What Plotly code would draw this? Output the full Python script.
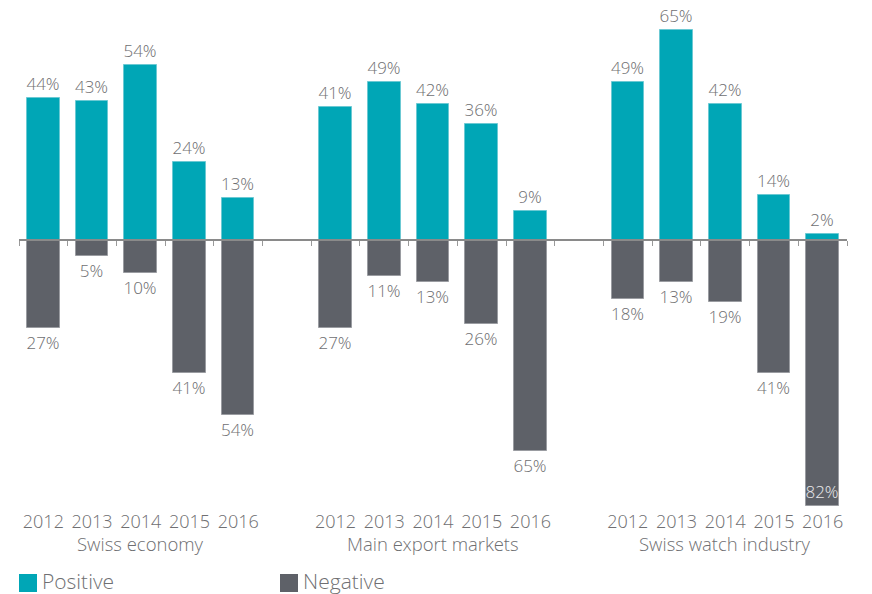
import plotly.graph_objects as go

groups = ["Swiss economy", "Main export markets", "Swiss watch industry"]
years = ["2012", "2013", "2014", "2015", "2016"]
positive = [44, 43, 54, 24, 13, 41, 49, 42, 36, 9, 49, 65, 42, 14, 2]
negative = [27, 5, 10, 41, 54, 27, 11, 13, 26, 65, 18, 13, 19, 41, 82]

TEAL = "#00a6b6"
GREY = "#5e6168"
TXT = "#6f6f72"
FONT = "Open Sans Light, Open Sans"

# x positions: 5 bars per group, one empty slot between groups
xpos = []
for g in range(len(groups)):
    for i in range(len(years)):
        xpos.append(g * (len(years) + 1) + i)
tick_text = years * len(groups)

ymin, ymax = -83, 68
xmin, xmax = -0.5, xpos[-1] + 0.5

# page body has an 8px margin; compensate so the picture fills the window
OFF = 8
W, H = 872 - OFF, 594 - OFF
ML, MT = 19 - OFF, 20 - OFF
PW, PH = 828, 489
MR, MB = W - ML - PW, H - MT - PH

neg_pos = ["inside" if v > 70 else "outside" for v in negative]

def lf(size, color=TXT):
    return dict(family=FONT, size=size, color=color, weight=300)

fig = go.Figure()
fig.add_trace(go.Bar(
    x=xpos, y=positive, name="Positive", width=0.67,
    marker=dict(color=TEAL, line=dict(color="#6cc9d3", width=1)),
    text=[f"{v}%" for v in positive], textposition="outside",
    textfont=lf(17), textangle=0,
    constraintext="none", cliponaxis=False, showlegend=False,
))
fig.add_trace(go.Bar(
    x=xpos, y=[-v for v in negative], name="Negative", width=0.67,
    marker=dict(color=GREY, line=dict(color="#9a9ca1", width=1)),
    text=[f"{v}%" for v in negative], textposition=neg_pos,
    insidetextanchor="end", textangle=0,
    textfont=lf(17), outsidetextfont=lf(17), insidetextfont=lf(17, "#e8e8ea"),
    constraintext="none", cliponaxis=False, showlegend=False,
))

zero_frac = (0 - ymin) / (ymax - ymin)

fig.update_layout(
    width=W, height=H,
    margin=dict(l=ML, r=MR, t=MT, b=MB, autoexpand=False),
    paper_bgcolor="white", plot_bgcolor="white",
    barmode="relative", bargap=0,
    font=lf(17),
    xaxis=dict(
        range=[xmin, xmax], tickvals=xpos, ticktext=tick_text,
        ticks="", showline=False, showgrid=False, zeroline=False,
        tickfont=lf(18), automargin=False,
    ),
    xaxis2=dict(
        overlaying="x", anchor="free", position=zero_frac, side="bottom",
        range=[xmin, xmax], showticklabels=False, showgrid=False, zeroline=False,
        showline=True, linecolor="#8a8a8a", linewidth=2, automargin=False,
        tickvals=[x - 0.5 for x in range(int(xmin + 0.5), int(xmax + 0.5) + 1)],
        ticks="outside", ticklen=5, tickwidth=1, tickcolor="#9a9a9a",
    ),
    yaxis=dict(range=[ymin, ymax], visible=False, showgrid=False,
               zeroline=False, automargin=False),
    showlegend=False,
)
# invisible trace to activate xaxis2
fig.add_trace(go.Scatter(x=[xmin, xmax], y=[0, 0], xaxis="x2", mode="lines",
                         line=dict(width=0), hoverinfo="skip", showlegend=False))

# helpers: window pixel -> paper fraction
def py(pixel_y):
    return (MT + PH - (pixel_y - OFF)) / PH

def px(pixel_x):
    return (pixel_x - OFF - ML) / PW

# group labels
for g, name in enumerate(groups):
    gx = xpos[g * len(years):(g + 1) * len(years)]
    fig.add_annotation(x=sum(gx) / len(gx), xref="x", y=py(543), yref="paper",
                       yanchor="middle", text=name, showarrow=False, font=lf(18.5))

# legend
for lx, label, col in [(19, "Positive", TEAL), (280, "Negative", GREY)]:
    fig.add_shape(type="rect", xref="paper", yref="paper",
                  x0=px(lx), x1=px(lx + 18), y0=py(592), y1=py(574),
                  fillcolor=col, line=dict(width=0))
    fig.add_annotation(x=px(lx + 21), xref="paper", xanchor="left",
                       y=py(581), yref="paper", yanchor="middle",
                       text=label, showarrow=False, font=lf(21))

fig.write_html("out.html")
